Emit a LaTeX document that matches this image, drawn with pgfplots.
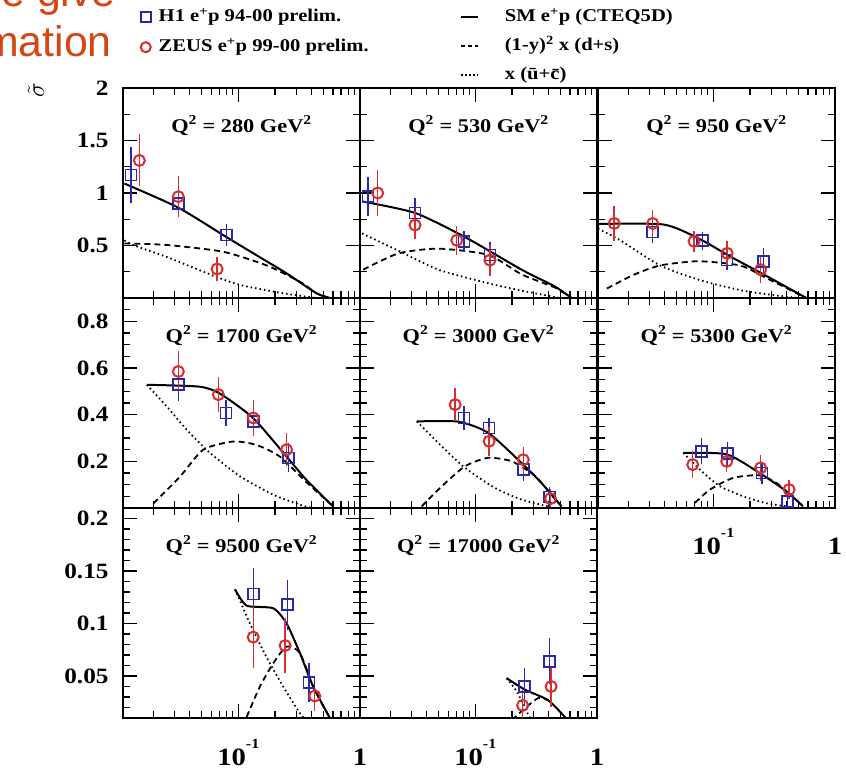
\documentclass[border=0pt]{standalone}
\usepackage{fontspec}
\setmainfont{Liberation Serif}[FakeStretch=1.15]
\newfontfamily\slidesans{Liberation Sans}
\usepackage{pgfplots}
\pgfplotsset{compat=1.18}
\definecolor{h1blue}{RGB}{40,40,170}
\definecolor{zeusred}{RGB}{215,45,45}
\definecolor{slideorange}{RGB}{214,70,20}
\newcommand{\tickfont}{\fontsize{22}{22}\selectfont\bfseries}
\newcommand{\xtickfont}{\fontsize{25}{25}\selectfont\bfseries}
\newcommand{\titfont}{\fontsize{19.5}{19.5}\selectfont\bfseries}
\newcommand{\legfont}{\fontsize{18}{18}\selectfont\bfseries}
\newcommand{\tenm}{10\raisebox{17bp}{\fontsize{14}{14}\selectfont -1}}
\pgfplotsset{every axis/.append style={
    scale only axis, width=237bp, height=210bp,
    xmin=0.0113, xmax=1,
    xtick={0.1,1},
    minor xtick={0.02,0.03,0.04,0.05,0.06,0.07,0.08,0.09,0.2,0.3,0.4,0.5,0.6,0.7,0.8,0.9},
    tick align=inside,
    xtick pos=both, ytick pos=both,
    major tick length=14bp, minor tick length=7bp,
    axis line style={line width=1.6bp},
    major tick style={black, line width=1.3bp},
    minor tick style={black, line width=1.3bp},
    yticklabel style={font=\tickfont, xshift=-11bp},
    xticklabel style={font=\xtickfont, anchor=base, yshift=-47bp},
}}
\begin{document}
\begin{tikzpicture}
\path[use as bounding box] (0bp,0bp) rectangle (846bp,773bp);
\begin{scope}
\clip (0bp,0bp) rectangle (846bp,773bp);
\node[anchor=base east, font=\slidesans\fontsize{43}{43}\selectfont, text=slideorange, inner sep=0pt] at (112bp,716bp) {mation};
\node[anchor=base east, font=\slidesans\fontsize{43}{43}\selectfont, text=slideorange, inner sep=0pt] at (116bp,766bp) {e give};
\end{scope}
\node[rotate=90, font=\fontsize{36}{36}\selectfont, inner sep=0pt] at (36bp,683bp) {$\tilde{\sigma}$};

% ---------- Panel 1: Q2 = 280
\begin{axis}[xmode=log, at={(123bp,475bp)}, anchor=south west,
  ymin=0, ymax=2, ytick={0.5,1,1.5,2}, minor ytick={0.25,0.75,1.25,1.75}, yticklabels={0.5,1,1.5,2}, xticklabels={},
  legend style={at={(axis description cs:0.074,1.388)}, anchor=north west, draw=none, fill=none, inner sep=0pt,
    font=\legfont, row sep=9bp, nodes={inner sep=2bp, text height=13bp, text depth=4bp},
    /tikz/every odd column/.append style={column sep=6bp}},
  legend cell align=left]
\addlegendimage{only marks, mark=square, mark size=5bp, h1blue, mark options={line width=1.6bp}}
\addlegendentry{H1 e\textsuperscript{+}p 94-00 prelim.}
\addlegendimage{only marks, mark=o, mark size=5bp, zeusred, mark options={line width=2bp}}
\addlegendentry{ZEUS e\textsuperscript{+}p 99-00 prelim.}
\addplot[black, line width=2bp, smooth, tension=0.4] coordinates {(0.0116,1.09)(0.0322,0.86)(0.080,0.58)(0.151,0.387)(0.249,0.235)(0.4395,0.045)(0.565,0.0)};
\addplot[black, line width=1.8bp, dash pattern=on 6bp off 4bp, smooth, tension=0.4] coordinates {(0.0116,0.52)(0.0259,0.505)(0.0753,0.44)(0.171,0.31)(0.321,0.155)(0.4395,0.045)(0.565,0)};
\addplot[black, line width=1.8bp, dash pattern=on 1.5bp off 3bp, smooth, tension=0.4] coordinates {(0.0116,0.55)(0.0133,0.51)(0.0259,0.39)(0.0665,0.20)(0.107,0.12)(0.234,0.045)(0.4365,0.0)};
\addplot[h1blue, only marks, mark=square, mark size=5.5bp, mark options={line width=1.6bp, solid},
  error bars/.cd, y dir=both, y explicit, error bar style={line width=1.4bp}, error mark options={line width=1.4bp, mark size=5bp}]
  coordinates {(0.0131,1.17) +- (0,0.22) (0.0322,0.90) +- (0,0.06) (0.080,0.60) +- (0,0.06)};
\addplot[zeusred, only marks, mark=o, mark size=5.5bp, mark options={line width=2bp, solid},
  error bars/.cd, y dir=both, y explicit, error bar style={line width=1.4bp}, error mark options={line width=1.4bp, mark size=5bp}]
  coordinates {(0.0154,1.31) +- (0,0.20) (0.0322,0.965) +- (0,0.15) (0.067,0.276) +- (0,0.07)};
\node[font=\titfont, anchor=base] at (rel axis cs:0.5,0.79) {Q\textsuperscript{2} = 280 GeV\textsuperscript{2}};
\end{axis}

% ---------- Panel 2: Q2 = 530
\begin{axis}[xmode=log, at={(360bp,475bp)}, anchor=south west,
  ymin=0, ymax=2, ytick={0.5,1,1.5,2}, minor ytick={0.25,0.75,1.25,1.75}, yticklabels={}, xticklabels={},
  legend style={at={(axis description cs:0.422,1.388)}, anchor=north west, draw=none, fill=none, inner sep=0pt,
    font=\legfont, row sep=8bp, nodes={inner sep=2bp, text height=13bp, text depth=4bp},
    /tikz/every odd column/.append style={column sep=24bp}},
  legend cell align=left]
\addlegendimage{black, line width=1.6bp}
\addlegendentry{SM e\textsuperscript{+}p (CTEQ5D)}
\addlegendimage{black, line width=1.6bp, dash pattern=on 4bp off 3bp}
\addlegendentry{(1-y)\textsuperscript{2} x (d+s)}
\addlegendimage{black, line width=1.6bp, dash pattern=on 1.5bp off 2.5bp}
\addlegendentry{x (\=u+\=c)}
\addplot[black, line width=2bp, smooth, tension=0.4] coordinates {(0.01175,0.92)(0.032,0.81)(0.0824,0.58)(0.24,0.27)(0.45,0.11)(0.6166,0.0)};
\addplot[black, line width=1.8bp, dash pattern=on 6bp off 4bp, smooth, tension=0.4] coordinates {(0.012,0.27)(0.0234,0.425)(0.0498,0.47)(0.128,0.41)(0.24,0.225)(0.45,0.1)(0.6166,0)};
\addplot[black, line width=1.8bp, dash pattern=on 1.5bp off 3bp, smooth, tension=0.4] coordinates {(0.01175,0.615)(0.0234,0.45)(0.0498,0.27)(0.128,0.14)(0.24,0.07)(0.4467,0.01)(0.5,0)};
\addplot[h1blue, only marks, mark=square, mark size=5.5bp, mark options={line width=1.6bp, solid},
  error bars/.cd, y dir=both, y explicit, error bar style={line width=1.4bp}, error mark options={line width=1.4bp, mark size=5bp}]
  coordinates {(0.0131,0.965) +- (0,0.14) (0.032,0.81) +- (0,0.09) (0.081,0.54) +- (0,0.05) (0.132,0.41) +- (0,0.08)};
\addplot[zeusred, only marks, mark=o, mark size=5.5bp, mark options={line width=2bp, solid},
  error bars/.cd, y dir=both, y explicit, error bar style={line width=1.4bp}, error mark options={line width=1.4bp, mark size=5bp}]
  coordinates {(0.0158,1.0) +- (0,0.17) (0.032,0.695) +- (0,0.09) (0.0705,0.55) +- (0,0.09) (0.132,0.36) +- (0,0.10)};
\node[font=\titfont, anchor=base] at (rel axis cs:0.5,0.79) {Q\textsuperscript{2} = 530 GeV\textsuperscript{2}};
\end{axis}

% ---------- Panel 3: Q2 = 950
\begin{axis}[xmode=log, at={(598bp,475bp)}, anchor=south west,
  ymin=0, ymax=2, ytick={0.5,1,1.5,2}, minor ytick={0.25,0.75,1.25,1.75}, yticklabels={}, xticklabels={}]
\addplot[black, line width=2bp, smooth, tension=0.4] coordinates {(0.0113,0.705)(0.0389,0.70)(0.075,0.57)(0.1406,0.39)(0.2636,0.22)(0.4943,0.045)(0.5821,0.0)};
\addplot[black, line width=1.8bp, dash pattern=on 6bp off 4bp, smooth, tension=0.4] coordinates {(0.01337,0.09)(0.0221,0.22)(0.0366,0.31)(0.075,0.35)(0.1656,0.31)(0.263,0.2)(0.4943,0.04)(0.5821,0)};
\addplot[black, line width=1.8bp, dash pattern=on 1.5bp off 3bp, smooth, tension=0.4] coordinates {(0.0113,0.66)(0.01718,0.55)(0.0366,0.31)(0.0778,0.17)(0.166,0.075)(0.302,0.03)(0.5,0.0)};
\addplot[h1blue, only marks, mark=square, mark size=5.5bp, mark options={line width=1.6bp, solid},
  error bars/.cd, y dir=both, y explicit, error bar style={line width=1.4bp}, error mark options={line width=1.4bp, mark size=5bp}]
  coordinates {(0.0318,0.63) +- (0,0.06) (0.0819,0.545) +- (0,0.04) (0.130,0.36) +- (0,0.05) (0.26,0.345) +- (0,0.08)};
\addplot[zeusred, only marks, mark=o, mark size=5.5bp, mark options={line width=2bp, solid},
  error bars/.cd, y dir=both, y explicit, error bar style={line width=1.4bp}, error mark options={line width=1.4bp, mark size=5bp}]
  coordinates {(0.01535,0.71) +- (0,0.12) (0.0318,0.71) +- (0,0.08) (0.0695,0.54) +- (0,0.05) (0.130,0.425) +- (0,0.07) (0.245,0.27) +- (0,0.08)};
\node[font=\titfont, anchor=base] at (rel axis cs:0.5,0.79) {Q\textsuperscript{2} = 950 GeV\textsuperscript{2}};
\end{axis}

% ---------- Panel 4: Q2 = 1700
\begin{axis}[xmode=log, at={(123bp,265bp)}, anchor=south west,
  ymin=0, ymax=0.9, ytick={0.2,0.4,0.6,0.8}, minor ytick={0.05,0.1,0.15,0.25,0.3,0.35,0.45,0.5,0.55,0.65,0.7,0.75,0.85}, yticklabels={0.2,0.4,0.6,0.8}, xticklabels={}]
\addplot[black, line width=2bp, smooth, tension=0.4] coordinates {(0.01774,0.528)(0.0479,0.52)(0.0708,0.49)(0.1327,0.385)(0.2495,0.22)(0.3639,0.12)(0.6012,0.007)};
\addplot[black, line width=1.8bp, dash pattern=on 6bp off 4bp, smooth, tension=0.4] coordinates {(0.0201,0.02)(0.0333,0.135)(0.0516,0.25)(0.091,0.285)(0.1413,0.27)(0.22,0.22)(0.3639,0.11)(0.6012,0.007)};
\addplot[black, line width=1.8bp, dash pattern=on 1.5bp off 3bp, smooth, tension=0.4] coordinates {(0.01774,0.528)(0.02588,0.435)(0.03776,0.335)(0.0586,0.236)(0.1033,0.136)(0.1936,0.057)(0.3162,0.015)(0.4,0.0)};
\addplot[h1blue, only marks, mark=square, mark size=5.5bp, mark options={line width=1.6bp, solid},
  error bars/.cd, y dir=both, y explicit, error bar style={line width=1.4bp}, error mark options={line width=1.4bp, mark size=5bp}]
  coordinates {(0.0322,0.528) +- (0,0.05) (0.0795,0.407) +- (0,0.035) (0.1327,0.371) +- (0,0.04) (0.2576,0.215) +- (0,0.04)};
\addplot[zeusred, only marks, mark=o, mark size=5.5bp, mark options={line width=2bp, solid},
  error bars/.cd, y dir=both, y explicit, error bar style={line width=1.4bp}, error mark options={line width=1.4bp, mark size=5bp}]
  coordinates {(0.0322,0.585) +- (0,0.065) (0.0686,0.486) +- (0,0.055) (0.1327,0.386) +- (0,0.055) (0.2495,0.25) +- (0,0.05)};
\node[font=\titfont, anchor=base] at (rel axis cs:0.5,0.79) {Q\textsuperscript{2} = 1700 GeV\textsuperscript{2}};
\end{axis}

% ---------- Panel 5: Q2 = 3000
\begin{axis}[xmode=log, at={(360bp,265bp)}, anchor=south west,
  ymin=0, ymax=0.9, ytick={0.2,0.4,0.6,0.8}, minor ytick={0.05,0.1,0.15,0.25,0.3,0.35,0.45,0.5,0.55,0.65,0.7,0.75,0.85}, yticklabels={}, xticklabels={}]
\addplot[black, line width=2bp, smooth, tension=0.4] coordinates {(0.0331,0.371)(0.0726,0.37)(0.1279,0.322)(0.2399,0.193)(0.3499,0.107)(0.5105,0.007)};
\addplot[black, line width=1.8bp, dash pattern=on 6bp off 4bp, smooth, tension=0.4] coordinates {(0.0363,0.007)(0.0531,0.093)(0.0824,0.179)(0.1279,0.215)(0.1995,0.2)(0.302,0.143)(0.3499,0.107)(0.5105,0.007)};
\addplot[black, line width=1.8bp, dash pattern=on 1.5bp off 3bp, smooth, tension=0.4] coordinates {(0.0331,0.371)(0.0531,0.264)(0.0824,0.172)(0.1452,0.086)(0.2399,0.036)(0.3981,0.007)};
\addplot[h1blue, only marks, mark=square, mark size=5.5bp, mark options={line width=1.6bp, solid},
  error bars/.cd, y dir=both, y explicit, error bar style={line width=1.4bp}, error mark options={line width=1.4bp, mark size=5bp}]
  coordinates {(0.0807,0.386) +- (0,0.03) (0.130,0.343) +- (0,0.02) (0.248,0.164) +- (0,0.025) (0.409,0.047) +- (0,0.02)};
\addplot[zeusred, only marks, mark=o, mark size=5.5bp, mark options={line width=2bp, solid},
  error bars/.cd, y dir=both, y explicit, error bar style={line width=1.4bp}, error mark options={line width=1.4bp, mark size=5bp}]
  coordinates {(0.0683,0.443) +- (0,0.05) (0.130,0.286) +- (0,0.04) (0.248,0.207) +- (0,0.035) (0.415,0.04) +- (0,0.02)};
\node[font=\titfont, anchor=base] at (rel axis cs:0.5,0.79) {Q\textsuperscript{2} = 3000 GeV\textsuperscript{2}};
\end{axis}

% ---------- Panel 6: Q2 = 5300
\begin{axis}[xmode=log, at={(598bp,265bp)}, anchor=south west,
  ymin=0, ymax=0.9, ytick={0.2,0.4,0.6,0.8}, minor ytick={0.05,0.1,0.15,0.25,0.3,0.35,0.45,0.5,0.55,0.65,0.7,0.75,0.85}, yticklabels={}, xticklabels={\tenm,1}]
\addplot[black, line width=2bp, smooth, tension=0.4] coordinates {(0.05675,0.236)(0.1288,0.23)(0.2399,0.15)(0.3999,0.071)(0.547,0.007)};
\addplot[black, line width=1.8bp, dash pattern=on 6bp off 4bp, smooth, tension=0.4] coordinates {(0.0708,0.022)(0.094,0.079)(0.1459,0.129)(0.2399,0.14)(0.3311,0.107)(0.3999,0.071)(0.547,0.007)};
\addplot[black, line width=1.8bp, dash pattern=on 1.5bp off 3bp, smooth, tension=0.4] coordinates {(0.05675,0.236)(0.0778,0.164)(0.1135,0.093)(0.1762,0.05)(0.2754,0.02)(0.4,0.007)};
\addplot[h1blue, only marks, mark=square, mark size=5.5bp, mark options={line width=1.6bp, solid},
  error bars/.cd, y dir=both, y explicit, error bar style={line width=1.4bp}, error mark options={line width=1.4bp, mark size=5bp}]
  coordinates {(0.0803,0.243) +- (0,0.035) (0.131,0.233) +- (0,0.03) (0.252,0.15) +- (0,0.025) (0.405,0.029) +- (0,0.02)};
\addplot[zeusred, only marks, mark=o, mark size=5.5bp, mark options={line width=2bp, solid},
  error bars/.cd, y dir=both, y explicit, error bar style={line width=1.4bp}, error mark options={line width=1.4bp, mark size=5bp}]
  coordinates {(0.0678,0.186) +- (0,0.035) (0.129,0.2) +- (0,0.025) (0.245,0.172) +- (0,0.035) (0.42,0.079) +- (0,0.02)};
\node[font=\titfont, anchor=base] at (rel axis cs:0.5,0.79) {Q\textsuperscript{2} = 5300 GeV\textsuperscript{2}};
\end{axis}

% ---------- Panel 7: Q2 = 9500
\begin{axis}[xmode=log, at={(123bp,55bp)}, anchor=south west,
  ymin=0.01, ymax=0.21, ytick={0.05,0.1,0.15,0.2}, minor ytick={0.02,0.03,0.04,0.06,0.07,0.08,0.09,0.11,0.12,0.13,0.14,0.16,0.17,0.18,0.19}, yticklabels={0.05,0.1,0.15,0.2}, xticklabels={\tenm,1}]
\addplot[black, line width=2bp, smooth, tension=0.4] coordinates {(0.094,0.1326)(0.1172,0.117)(0.1936,0.1145)(0.2495,0.1)(0.3206,0.072)(0.4121,0.04)(0.547,0.013)(0.6,0.005)};
\addplot[black, line width=1.8bp, dash pattern=on 6bp off 4bp, smooth, tension=0.4] coordinates {(0.1172,0.011)(0.1507,0.04)(0.1936,0.062)(0.2495,0.078)(0.3206,0.072)(0.4121,0.04)(0.547,0.013)(0.6,0.005)};
\addplot[black, line width=1.8bp, dash pattern=on 1.5bp off 3bp, smooth, tension=0.4] coordinates {(0.094,0.1326)(0.1247,0.1)(0.1706,0.068)(0.2339,0.04)(0.3206,0.0145)(0.36,0.008)};
\addplot[h1blue, only marks, mark=square, mark size=5.5bp, mark options={line width=1.6bp, solid},
  error bars/.cd, y dir=both, y explicit, error bar style={line width=1.4bp}, error mark options={line width=1.4bp, mark size=5bp}]
  coordinates {(0.1327,0.128) +- (0,0.02) (0.254,0.118) +- (0,0.019) (0.382,0.044) +- (0,0.014)};
\addplot[zeusred, only marks, mark=o, mark size=5.5bp, mark options={line width=2bp, solid},
  error bars/.cd, y dir=both, y explicit, error bar style={line width=1.4bp}, error mark options={line width=1.4bp, mark size=5bp}]
  coordinates {(0.1327,0.087) +- (0,0.025) (0.2427,0.079) +- (0,0.021) (0.425,0.031) +- (0,0.01)};
\node[font=\titfont, anchor=base] at (rel axis cs:0.5,0.79) {Q\textsuperscript{2} = 9500 GeV\textsuperscript{2}};
\end{axis}

% ---------- Panel 8: Q2 = 17000
\begin{axis}[xmode=log, at={(360bp,55bp)}, anchor=south west,
  ymin=0.01, ymax=0.21, ytick={0.05,0.1,0.15,0.2}, minor ytick={0.02,0.03,0.04,0.06,0.07,0.08,0.09,0.11,0.12,0.13,0.14,0.16,0.17,0.18,0.19}, yticklabels={}, xticklabels={\tenm,1}]
\addplot[black, line width=2bp, smooth, tension=0.4] coordinates {(0.1807,0.048)(0.2553,0.037)(0.3963,0.027)(0.5433,0.011)(0.58,0.006)};
\addplot[black, line width=1.8bp, dash pattern=on 6bp off 4bp, smooth, tension=0.4] coordinates {(0.2,0.008)(0.26,0.02)(0.33,0.029)(0.3963,0.027)};
\addplot[black, line width=1.8bp, dash pattern=on 1.5bp off 3bp, smooth, tension=0.4] coordinates {(0.1807,0.048)(0.22,0.035)(0.2754,0.012)(0.3,0.006)};
\addplot[h1blue, only marks, mark=square, mark size=5.5bp, mark options={line width=1.6bp, solid},
  error bars/.cd, y dir=both, y explicit, error bar style={line width=1.4bp}, error mark options={line width=1.4bp, mark size=5bp}]
  coordinates {(0.255,0.04) +- (0,0.013) (0.409,0.064) +- (0,0.017)};
\addplot[zeusred, only marks, mark=o, mark size=5.5bp, mark options={line width=2bp, solid},
  error bars/.cd, y dir=both, y explicit, error bar style={line width=1.4bp}, error mark options={line width=1.4bp, mark size=5bp}]
  coordinates {(0.245,0.022) +- (0,0.01) (0.42,0.04) +- (0,0.015)};
\node[font=\titfont, anchor=base] at (rel axis cs:0.5,0.79) {Q\textsuperscript{2} = 17000 GeV\textsuperscript{2}};
\end{axis}
\end{tikzpicture}
\end{document}
